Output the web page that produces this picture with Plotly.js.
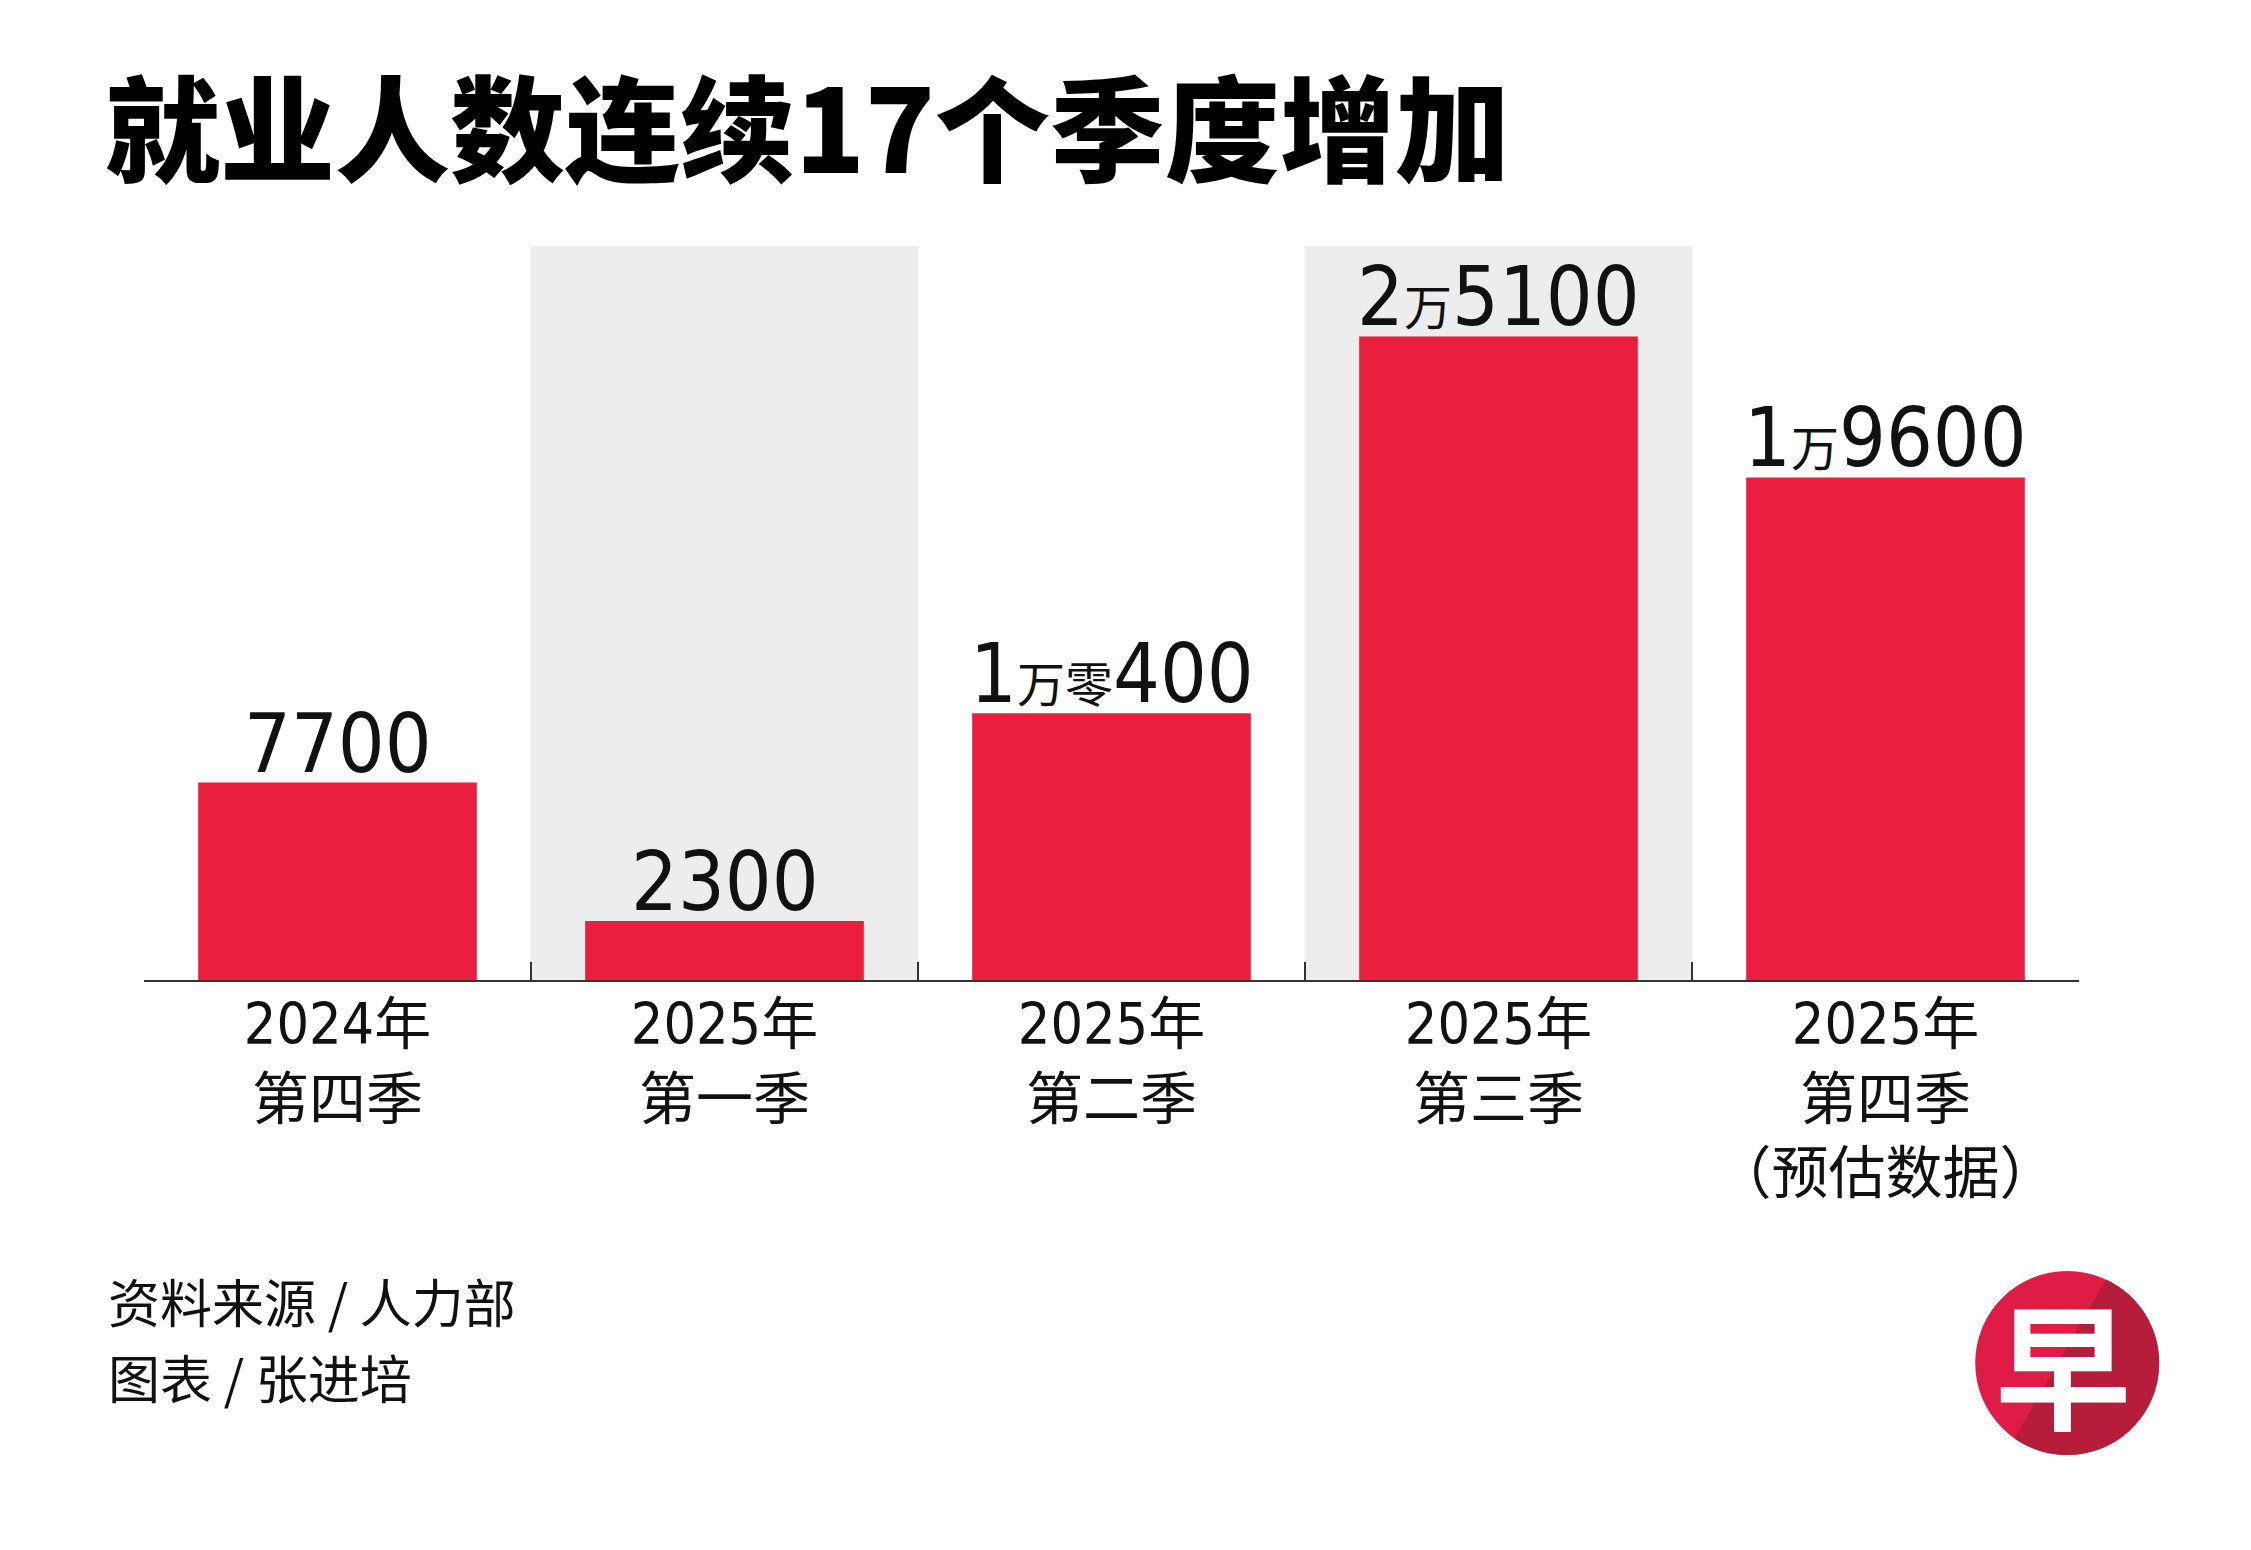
<!DOCTYPE html>
<html>
<head>
<meta charset="utf-8">
<script src="https://cdn.plot.ly/plotly-3.0.1.min.js"></script>
<style>html,body{margin:0;padding:0;background:#fff;}#chart{width:2251px;height:1550px;}</style>
</head>
<body>
<div id="chart"></div>
<script>
// ---- data ----
const years = ['2024年', '2025年', '2025年', '2025年', '2025年'];
const quarters = ['第四季', '第一季', '第二季', '第三季', '第四季'];
const notes = ['', '', '', '', '（预估数据）'];
const values = [7700, 2300, 10400, 25100, 19600];
const valueLabels = ['7700', '2300', '1万零400', '2万5100', '1万9600'];
const titleText = '就业人数连续17个季度增加';
const sourceLines = ['资料来源 / 人力部', '图表 / 张进培'];
const logoChar = '早';

// ---- build ----
const categories = years.map((y, i) => y + '<br>' + quarters[i] + (notes[i] ? '<br>' + notes[i] : ''));
const smallCJK = s => s.replace(/([万零])/g, '<span style="font-size:48px">$1</span>');

const W = 2251, H = 1550;
const L = 143.6, R = 172.2, T = 245.5, B = 569.5;
const PW = W - L - R, PH = H - T - B;
const px2x = p => (p - L) / PW;
const py2y = p => (H - B - p) / PH;

const RED = '#E91F3D';
const GRAY = '#EDEDED';
const NUMFONT = '"DejaVu Sans Condensed", "Noto Sans CJK SC", sans-serif';
const CJK = '"Noto Sans CJK SC", sans-serif';

const trace = {
  type: 'bar',
  x: categories,
  y: values,
  width: 0.72,
  marker: {color: RED, line: {width: 0}},
  cliponaxis: false,
  hoverinfo: 'skip'
};

// logo shapes
const lx = px2x(2067), ly = py2y(1364), rad = 92;
function arcPath(a1, a2, n) {
  let pts = [];
  for (let k = 0; k <= n; k++) {
    const a = (a1 + (a2 - a1) * k / n) * Math.PI / 180;
    pts.push((rad * Math.cos(a)).toFixed(2) + ',' + (rad * Math.sin(a)).toFixed(2));
  }
  return 'M' + pts.join(' L') + ' Z';
}

const shapes = [
  {type: 'rect', xref: 'x', yref: 'paper', x0: 0.5, x1: 1.5, y0: 0, y1: 1, fillcolor: GRAY, line: {width: 0}, layer: 'below'},
  {type: 'rect', xref: 'x', yref: 'paper', x0: 2.5, x1: 3.5, y0: 0, y1: 1, fillcolor: GRAY, line: {width: 0}, layer: 'below'},
  {type: 'circle', xref: 'paper', yref: 'paper', xsizemode: 'pixel', ysizemode: 'pixel', xanchor: lx, yanchor: ly,
   x0: -rad, x1: rad, y0: -rad, y1: rad, fillcolor: '#DE1C45', line: {width: 0}},
  {type: 'path', xref: 'paper', yref: 'paper', xsizemode: 'pixel', ysizemode: 'pixel', xanchor: lx, yanchor: ly,
   path: arcPath(65, -125, 60), fillcolor: '#B51D3B', line: {width: 0}}
];

const valueAnnots = values.map((v, i) => ({
  xref: 'x', yref: 'y', x: categories[i], y: v, xanchor: 'center', yanchor: 'bottom',
  yshift: -10, showarrow: false, text: smallCJK(valueLabels[i]),
  font: {family: NUMFONT, size: 82, color: '#111'}
}));

const annotations = valueAnnots.concat([
  {xref: 'paper', yref: 'paper', x: px2x(106), y: py2y(1301), xanchor: 'left', yanchor: 'middle', showarrow: false,
   text: sourceLines[0], font: {family: CJK, size: 52, color: '#111'}},
  {xref: 'paper', yref: 'paper', x: px2x(106), y: py2y(1378), xanchor: 'left', yanchor: 'middle', showarrow: false,
   text: sourceLines[1], font: {family: CJK, size: 52, color: '#111'}},
  {xref: 'paper', yref: 'paper', x: lx, y: ly, xanchor: 'center', yanchor: 'middle', showarrow: false, xshift: -4, yshift: 2,
   text: logoChar, font: {family: CJK, size: 136, color: '#fff', weight: 700}}
]);

const layout = {
  width: W, height: H,
  margin: {l: L, r: R, t: T, b: B, pad: 0},
  paper_bgcolor: '#fff', plot_bgcolor: 'rgba(0,0,0,0)',
  showlegend: false,
  title: {text: titleText, xref: 'container', yref: 'container', x: 105 / W, y: 1 - 133 / H,
          xanchor: 'left', yanchor: 'middle',
          font: {family: CJK, size: 115, color: '#000', weight: 900}},
  xaxis: {
    type: 'category', range: [-0.5, 4.5], fixedrange: true,
    showline: true, linecolor: '#333', linewidth: 2,
    ticks: 'inside', tickson: 'boundaries', ticklen: 18, tickwidth: 1.5, tickcolor: '#333',
    showgrid: false, zeroline: false,
    tickfont: {family: NUMFONT, size: 57, color: '#111'},
    ticklabelstandoff: -6
  },
  yaxis: {visible: false, range: [0, 28625], fixedrange: true, showgrid: false, zeroline: false},
  shapes: shapes,
  annotations: annotations
};

Plotly.newPlot('chart', [trace], layout, {displayModeBar: false, staticPlot: true});
</script>
</body>
</html>
